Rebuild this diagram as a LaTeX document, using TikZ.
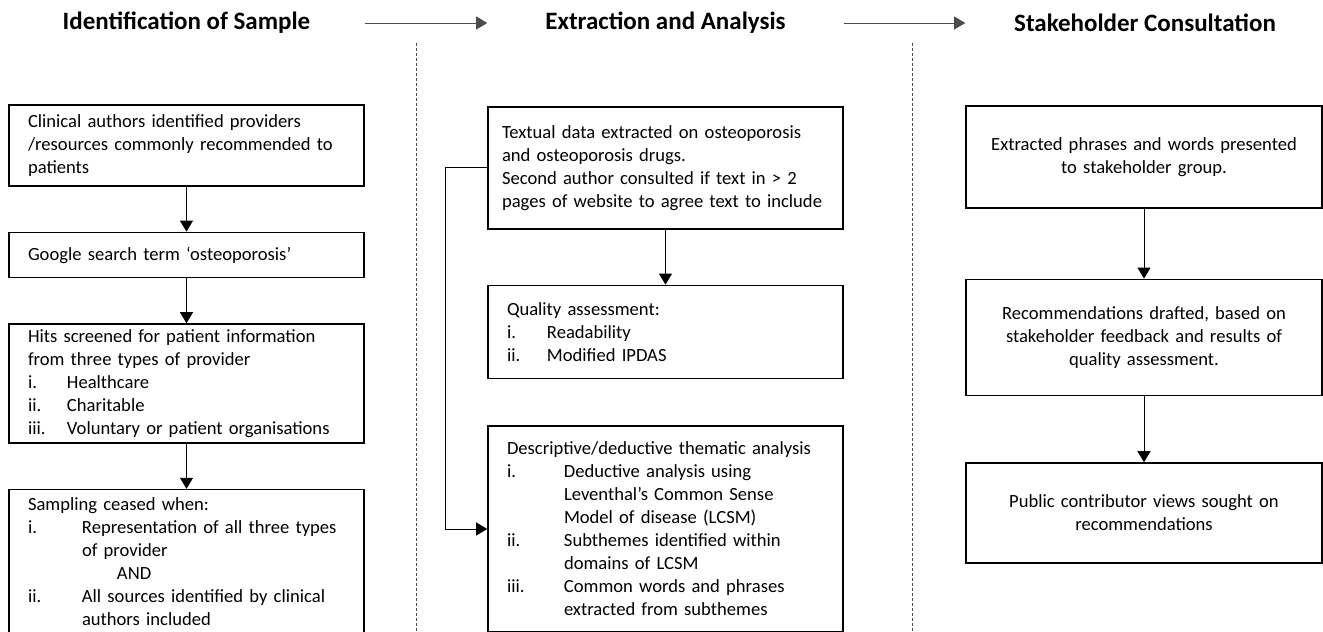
\documentclass[tikz,border=0pt]{standalone}
\usepackage{fontspec}
\setmainfont{Carlito}
\usetikzlibrary{positioning,arrows.meta}
\newcommand{\itm}[3]{\par\hangindent=#1\hangafter=1\noindent\makebox[#1][l]{#2}#3}

\begin{document}
\begin{tikzpicture}[x=1pt,y=-1pt,
  every node/.append style={font=\fontsize{18.6}{23}\selectfont},
  box/.style={draw,line width=1.6pt,text width=317pt,inner xsep=19pt,inner ysep=3pt,align=left},
  cbox/.style={box,text width=318pt,align=center},
  title/.style={font=\fontsize{25}{28}\selectfont\bfseries},
  arr/.style={-{Triangle[width=13pt,length=11pt]},line width=0.8pt},
  dashline/.style={gray!60!black,line width=0.8pt,dash pattern=on 3pt off 2pt},
  node distance=45pt]
\useasboundingbox (0,0) rectangle (1323,632);
% column titles
\node[title] (t1) at (186.5,23) {Identification of Sample};
\node[title] (t2) at (665.5,23) {Extraction and Analysis};
\node[title] (t3) at (1145,23) {Stakeholder Consultation};
% left column
\node[box,minimum height=81pt,anchor=north] (l1) at (186.5,104)
  {Clinical authors identified providers\\/resources commonly recommended to\\patients};
\node[box,minimum height=45pt,below=of l1] (l2) {Google search term ‘osteoporosis’};
\node[box,minimum height=119pt,below=of l2] (l3)
  {Hits screened for patient information\\from three types of provider
   \itm{39pt}{i.}{Healthcare}
   \itm{39pt}{ii.}{Charitable}
   \itm{39pt}{iii.}{Voluntary or patient organisations}\par};
\node[box,minimum height=144pt,below=of l3] (l4)
  {Sampling ceased when:
   \itm{54pt}{i.}{Representation of all three types\newline of provider\newline\hspace*{35pt}AND}
   \itm{54pt}{ii.}{All sources identified by clinical\newline authors included}\par};
% middle column
\node[box,text width=327pt,inner xsep=14pt,minimum height=122pt,anchor=north] (m1) at (665.5,106)
  {Textual data extracted on osteoporosis\\and osteoporosis drugs.\\Second author consulted if text in > 2\\pages of website to agree text to include};
\node[box,minimum height=93pt,below=55pt of m1] (m2)
  {Quality assessment:
   \itm{40pt}{i.}{Readability}
   \itm{40pt}{ii.}{Modified IPDAS}\par};
\node[box,minimum height=206pt,below=46pt of m2] (m3)
  {Descriptive/deductive thematic analysis
   \itm{57pt}{i.}{Deductive analysis using\newline Leventhal’s Common Sense\newline Model of disease (LCSM)}
   \itm{57pt}{ii.}{Subthemes identified within\newline domains of LCSM}
   \itm{57pt}{iii.}{Common words and phrases\newline extracted from subthemes}\par};
% right column
\node[cbox,minimum height=102pt,anchor=north] (r1) at (1144,105)
  {Extracted phrases and words presented\\to stakeholder group.};
\node[cbox,minimum height=116pt,below=70pt of r1] (r2)
  {Recommendations drafted, based on\\stakeholder feedback and results of\\quality assessment.};
\node[cbox,minimum height=100pt,below=66pt of r2] (r3)
  {Public contributor views sought on\\recommendations};
% separators
\draw[dashline] (416,43) -- (416,632);
\draw[dashline] (912,43) -- (912,632);
% connectors
\draw[arr,gray!60!black] (l1.east |- t1) -- (m1.west |- t2);
\draw[arr,gray!60!black] (m1.east |- t2) -- (r1.west |- t3);
\draw[arr] (l1) -- (l2);
\draw[arr] (l2) -- (l3);
\draw[arr] (l3) -- (l4);
\draw[arr] (m1) -- (m2);
\draw[arr] (m1.west) -- ++(-42,0) |- (m3.west);
\draw[arr] (r1) -- (r2);
\draw[arr] (r2) -- (r3);
\end{tikzpicture}
\end{document}
